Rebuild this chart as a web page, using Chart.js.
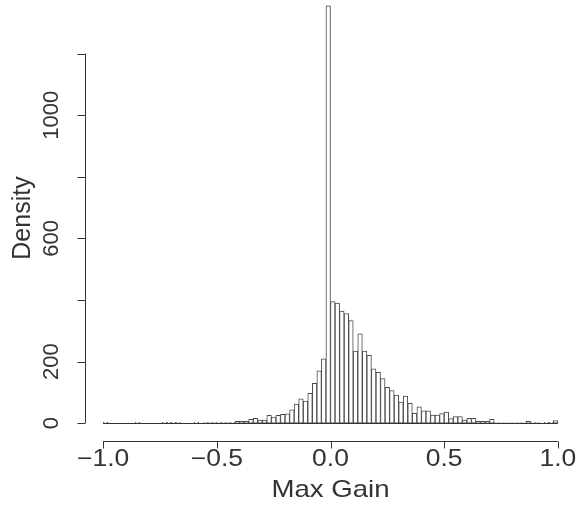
<!DOCTYPE html>
<html>
<head>
<meta charset="utf-8">
<title>Max Gain</title>
<script src="https://cdn.jsdelivr.net/npm/chart.js@4.4.1/dist/chart.umd.min.js"></script>
<style>
    body { margin: 0; background: #fff; }
    canvas { display: block; }
</style>
</head>
<body>
<canvas id="myChart" width="582" height="505"></canvas>
<script>
// histogram breaks: -1.0 .. 1.0 by 0.02
let binStart = -1;
let binWidth = 0.02;

// density of each bin (left to right)
let densities = [
    3, 0, 0, 0, 0, 0, 0, 3, 0, 0,
    0, 0, 0, 3, 3, 3, 3, 0, 0, 0,
    3, 0, 2, 2, 2, 2, 2, 2, 2, 6,
    6, 6, 12, 16, 10, 10, 25, 20, 25, 29,
    30, 43, 62, 79, 72, 97, 129, 170, 209, 1355,
    395, 390, 364, 356, 333, 234, 290, 234, 220, 176,
    165, 145, 116, 106, 91, 68, 88, 64, 32, 53,
    40, 40, 26, 26, 31, 36, 15, 21, 21, 10,
    16, 16, 6, 6, 6, 12, 2, 1, 1, 1,
    1, 1, 1, 6, 2, 2, 0, 3, 2, 8
];

let xTicks = [-1, -0.5, 0, 0.5, 1];
let xTickLabels = ["\u22121.0", "\u22120.5", "0.0", "0.5", "1.0"];
let yTicks = [0, 200, 400, 600, 800, 1000, 1200];
let yLabelled = [0, 200, 600, 1000];

let xTitle = "Max Gain";
let yTitle = "Density";

let ink = "#333333";
let fontFamily = "'Liberation Sans', Arial, Helvetica, sans-serif";

let points = [];
for (let i = 0; i < densities.length; i++)
{
    points.push({ x: binStart + binWidth * (i + 0.5), y: densities[i] });
}

// R style axes, drawn from the chart scales
let rAxes = {
    id: "rAxes",
    afterDraw: function (chart)
    {
        let ctx = chart.ctx;
        let xs = chart.scales.x;
        let ys = chart.scales.y;
        let area = chart.chartArea;
        ctx.save();
        ctx.strokeStyle = ink;
        ctx.fillStyle = ink;
        ctx.lineWidth = 1;

        // zero line under empty bins
        ctx.beginPath();
        ctx.moveTo(xs.getPixelForValue(xTicks[0]), Math.round(ys.getPixelForValue(0)) + 0.5);
        ctx.lineTo(xs.getPixelForValue(xTicks[xTicks.length - 1]), Math.round(ys.getPixelForValue(0)) + 0.5);
        ctx.stroke();

        // x axis
        let ax = Math.round(area.bottom) + 0.5;
        ctx.beginPath();
        ctx.moveTo(xs.getPixelForValue(xTicks[0]), ax);
        ctx.lineTo(xs.getPixelForValue(xTicks[xTicks.length - 1]), ax);
        for (let i = 0; i < xTicks.length; i++)
        {
            let px = Math.round(xs.getPixelForValue(xTicks[i])) + 0.5;
            ctx.moveTo(px, ax);
            ctx.lineTo(px, ax + 7);
        }
        ctx.stroke();

        ctx.textAlign = "center";
        ctx.textBaseline = "middle";
        ctx.font = "23px " + fontFamily;
        for (let i = 0; i < xTicks.length; i++)
        {
            let px = xs.getPixelForValue(xTicks[i]);
            ctx.save();
            ctx.translate(px, ax + 18);
            ctx.scale(1.15, 1);
            ctx.fillText(xTickLabels[i], 0, 0);
            ctx.restore();
        }
        ctx.save();
        ctx.font = "24px " + fontFamily;
        ctx.translate(xs.getPixelForValue(0), 490);
        ctx.scale(1.15, 1);
        ctx.fillText(xTitle, 0, 0);
        ctx.restore();

        // y axis
        let ay = Math.round(area.left) + 0.5;
        ctx.beginPath();
        ctx.moveTo(ay, ys.getPixelForValue(yTicks[0]));
        ctx.lineTo(ay, ys.getPixelForValue(yTicks[yTicks.length - 1]));
        for (let i = 0; i < yTicks.length; i++)
        {
            let py = Math.round(ys.getPixelForValue(yTicks[i])) + 0.5;
            ctx.moveTo(ay, py);
            ctx.lineTo(ay - 8, py);
        }
        ctx.stroke();

        ctx.font = "22px " + fontFamily;
        for (let i = 0; i < yLabelled.length; i++)
        {
            ctx.save();
            ctx.translate(52, ys.getPixelForValue(yLabelled[i]));
            ctx.rotate(-Math.PI / 2);
            ctx.fillText(String(yLabelled[i]), 0, 0);
            ctx.restore();
        }
        ctx.save();
        ctx.font = "25px " + fontFamily;
        ctx.translate(23, 218);
        ctx.rotate(-Math.PI / 2);
        ctx.fillText(yTitle, 0, 0);
        ctx.restore();

        ctx.restore();
    }
};

let chart = new Chart(document.getElementById("myChart"), {
    type: "bar",
    data: {
        datasets: [{
            data: points,
            backgroundColor: "#ffffff",
            borderColor: "#4a4a4a",
            borderWidth: 1,
            borderSkipped: false,
            barPercentage: 1,
            categoryPercentage: 1
        }]
    },
    options: {
        responsive: false,
        animation: false,
        layout: { padding: { left: 85, right: 6, top: 0, bottom: 64 } },
        plugins: {
            legend: { display: false },
            tooltip: { enabled: false }
        },
        scales: {
            x: { type: "linear", min: -1.08, max: 1.08, offset: false, display: false },
            y: { min: -58, max: 1374, display: false }
        }
    },
    plugins: [rAxes]
});
</script>
</body>
</html>
